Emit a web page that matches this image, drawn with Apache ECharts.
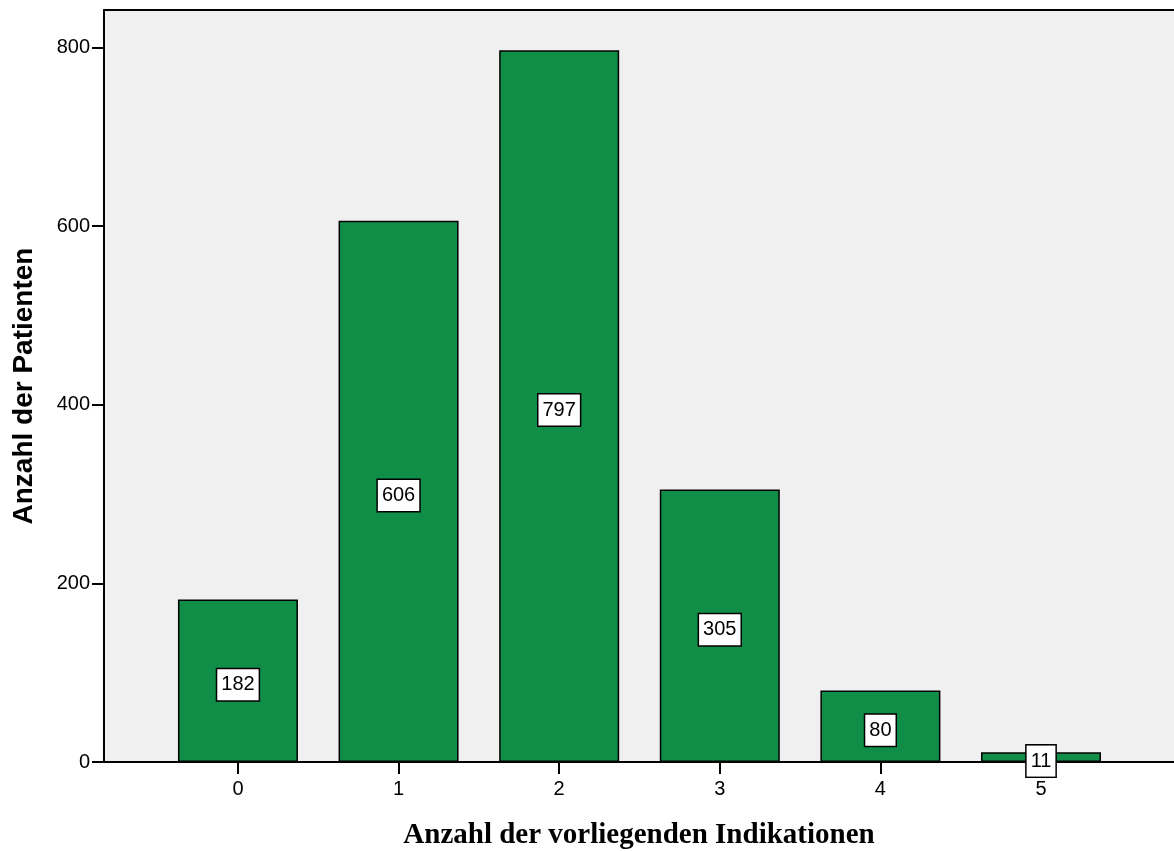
<!DOCTYPE html>
<html><head><meta charset="utf-8">
<script src="https://cdn.jsdelivr.net/npm/echarts@6/dist/echarts.min.js"></script>
<style>html,body{margin:0;padding:0;background:#fff}#c{width:1174px;height:851px}</style>
</head><body><div id="c"></div>
<script>
var categories = [0, 1, 2, 3, 4, 5];
var counts = [182, 606, 797, 305, 80, 11];
var yTicks = [0, 200, 400, 600, 800];

var chart = echarts.init(document.getElementById('c'));
chart.setOption({
  animation: false,
  grid: { left: 104, right: 0, top: 10, bottom: 89, show: true, backgroundColor: '#f0f0f0', borderWidth: 0,
    containLabel: false, outerBoundsMode: 'none' },
  xAxis: [{
    type: 'value', min: -0.834, max: 5.828,
    splitLine: { show: false },
    axisLine: { show: true, onZero: false, lineStyle: { color: '#000', width: 2 } },
    axisTick: { show: true, customValues: categories, length: 12, lineStyle: { color: '#000', width: 2 } },
    axisLabel: { customValues: categories, color: '#000', fontSize: 20, fontFamily: 'Liberation Sans, Arial', margin: 17 },
    name: 'Anzahl der vorliegenden Indikationen', nameLocation: 'middle', nameGap: 59,
    nameTextStyle: { color: '#000', fontSize: 29, fontWeight: 'bold', fontFamily: 'Liberation Serif, Times New Roman', verticalAlign: 'top' }
  }, {
    type: 'value', position: 'top', min: -0.834, max: 5.828,
    splitLine: { show: false }, axisTick: { show: false }, axisLabel: { show: false },
    axisLine: { show: true, onZero: false, lineStyle: { color: '#000', width: 2 } }
  }],
  yAxis: {
    type: 'value', min: 0, max: 842, interval: 200,
    splitLine: { show: false },
    axisLine: { show: true, onZero: false, lineStyle: { color: '#000', width: 2 } },
    axisTick: { show: true, length: 12, customValues: yTicks, lineStyle: { color: '#000', width: 2 } },
    axisLabel: { color: '#000', fontSize: 20, fontFamily: 'Liberation Sans, Arial', margin: 14,
      customValues: yTicks },
    name: 'Anzahl der Patienten', nameLocation: 'middle', nameGap: 66,
    nameTextStyle: { color: '#000', fontSize: 28, fontWeight: 'bold', fontFamily: 'Liberation Sans, Arial' }
  },
  series: [{
    type: 'bar', barWidth: 120,
    data: categories.map(function (c, i) { return [c, counts[i]]; }),
    itemStyle: { color: '#108e48', borderColor: '#000', borderWidth: 1.5 },
    label: {
      show: true, position: 'inside', offset: [0, 4], color: '#000', fontSize: 20, fontFamily: 'Liberation Sans, Arial',
      backgroundColor: '#fff', borderColor: '#000', borderWidth: 1.5, padding: [6, 4, 5, 4],
      formatter: function (p) { return p.value[1]; }
    }
  }]
});
</script></body></html>
